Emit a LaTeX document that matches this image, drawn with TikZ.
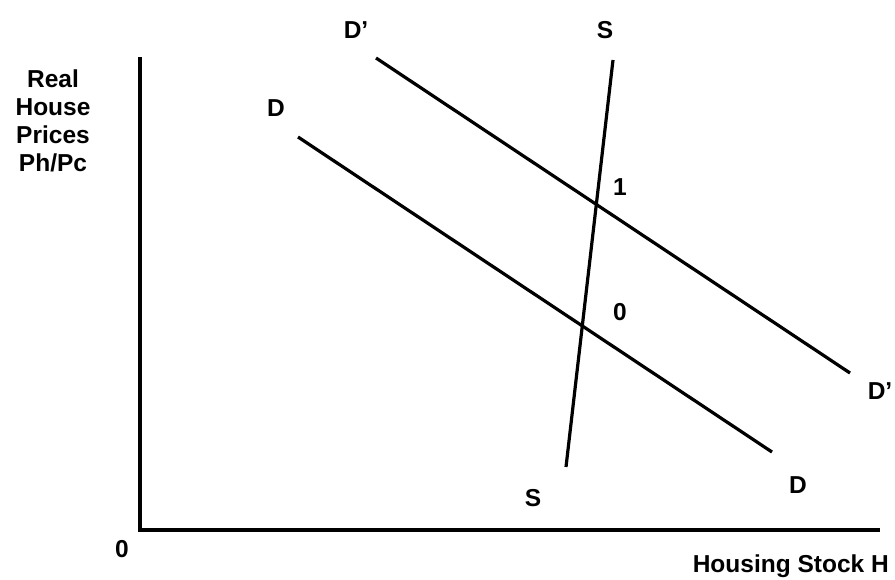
\documentclass[tikz,border=0pt]{standalone}
\usepackage{fontspec}
\setmainfont{Liberation Sans}
\usetikzlibrary{positioning, calc}

\begin{document}
\begin{tikzpicture}[
  x=1pt, y=-1pt,
  axisline/.style={line width=4pt, line cap=butt},
  curve/.style={line width=3.2pt},
  lbl/.style={font=\fontsize{24.5}{28}\selectfont\bfseries, inner sep=0pt},
]

\useasboundingbox (0,0) rectangle (895,580);

% Axes
\coordinate (ytop) at (140,57);
\coordinate (orig) at (140,530);
\coordinate (xend) at (880,530);
\draw[axisline] (ytop) -- (orig) -- (xend);

% Axis labels
\node[lbl] (zero) at (122,549) {0};
\node[lbl, align=center] (ylabel) at (53,121) {Real\\House\\Prices\\Ph/Pc};
\node[lbl, anchor=east] (xlabel) at (889,566) {Housing Stock H};

% Demand curve D
\coordinate (d0) at (298,137);
\coordinate (d1) at (772,452);
\draw[curve] (d0) -- (d1);
\node[lbl] (dtop) at (276,108) {D};
\node[lbl] (dbot) at (798,485) {D};

% Shifted demand curve D'
\coordinate (e0) at (376,58);
\coordinate (e1) at (850,373);
\draw[curve] (e0) -- (e1);
\node[lbl] (etop) at (356,30) {D’};
\node[lbl] (ebot) at (880,391) {D’};

% Supply curve S
\coordinate (s0) at (613,60);
\coordinate (s1) at (566,467);
\draw[curve] (s0) -- (s1);
\node[lbl] (stop) at (605,30) {S};
\node[lbl] (sbot) at (533,498) {S};

% Equilibria
\node[lbl] (eq1) at (620,187) {1};
\node[lbl] (eq0) at (620,312) {0};

\end{tikzpicture}
\end{document}
